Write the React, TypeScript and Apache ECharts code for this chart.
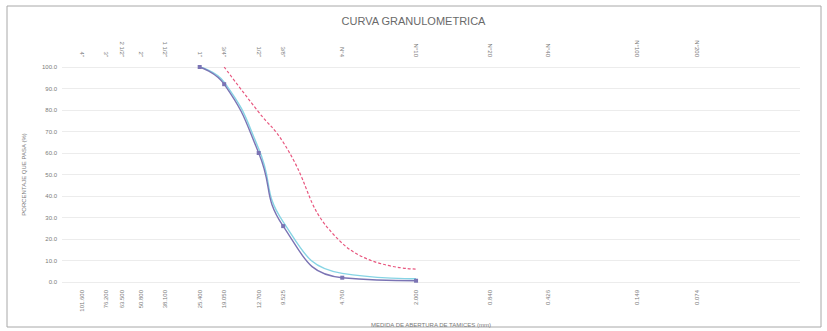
import React, { useEffect, useRef } from "react";
import * as echarts from "echarts";

// Sieve names and openings (mm)
const sieveNames = ['4"', '3"', '2 1/2"', '2"', '1 1/2"', '1"', '3/4"', '1/2"', '3/8"', "N°4", "N°10", "N°20", "N°40", "N°100", "N°200"];
const sieveSizes = [101.6, 76.2, 63.5, 50.8, 38.1, 25.4, 19.05, 12.7, 9.525, 4.76, 2.0, 0.84, 0.426, 0.149, 0.074];

// Percentage passing
const curveASizes = [25.4, 19.05, 12.7, 9.525, 4.76, 2.0];
const curveAValues = [100, 92, 60, 26, 2, 0.6];
const curveBSizes = [25.4, 19.05, 12.7, 9.525, 4.76, 2.0];
const curveBValues = [100, 93, 62, 28, 4, 1.5];
const curveCSizes = [19.05, 12.7, 9.525, 4.76, 2.0];
const curveCValues = [100, 79, 65, 18, 6];

const yTicks = [0, 10, 20, 30, 40, 50, 60, 70, 80, 90, 100];

const FONT = "Liberation Sans, Arial, sans-serif";
const TXT = "#7a7a7a";

function nameFor(v: number): string {
  let best = 0;
  let bd = Infinity;
  sieveSizes.forEach((s, i) => {
    const d = Math.abs(Math.log(s) - Math.log(v));
    if (d < bd) { bd = d; best = i; }
  });
  return sieveNames[best];
}

export default function App() {
  const ref = useRef<HTMLDivElement>(null);
  useEffect(() => {
    if (!ref.current) return;
    const chart = echarts.init(ref.current, undefined, { renderer: "svg" });
    const xCommon = {
      type: "log" as const,
      logBase: 10,
      inverse: true,
      min: 0.022,
      max: 128,
      axisLine: { show: false },
      axisTick: { show: false },
      splitLine: { show: false },
    };
    chart.setOption({
      animation: false,
      backgroundColor: "#ffffff",
      title: {
        text: "CURVA GRANULOMETRICA",
        left: "center",
        top: 10,
        textStyle: { fontFamily: FONT, fontSize: 11, fontWeight: "normal", color: "#6a6a6a" },
      },
      graphic: [
        {
          type: "rect",
          shape: { x: 7, y: 6, width: 814, height: 321 },
          style: { fill: "none", stroke: "#a8a8a8", lineWidth: 1 },
          silent: true,
        },
      ],
      grid: { left: 62, right: 27, top: 67, bottom: 49, containLabel: false, outerBoundsMode: "none" },
      xAxis: [
        {
          ...xCommon,
          position: "bottom",
          name: "MEDIDA DE ABERTURA DE TAMICES (mm)",
          nameLocation: "middle",
          nameGap: 40,
          nameTextStyle: { fontFamily: FONT, fontSize: 6, color: TXT },
          axisLabel: {
            customValues: sieveSizes,
            rotate: 90,
            margin: 8,
            fontFamily: FONT,
            fontSize: 6,
            color: TXT,
            formatter: (v: number) => v.toFixed(3),
          },
        },
        {
          ...xCommon,
          position: "top",
          axisLabel: {
            customValues: sieveSizes,
            rotate: 90,
            margin: 10,
            fontFamily: FONT,
            fontSize: 6,
            color: TXT,
            formatter: (v: number) => nameFor(v),
          },
        },
      ],
      yAxis: {
        type: "value",
        min: 0,
        max: 100,
        interval: 10,
        name: "PORCENTAJE QUE PASA (%)",
        nameLocation: "middle",
        nameGap: 35,
        nameRotate: 90,
        nameTextStyle: { fontFamily: FONT, fontSize: 6, color: TXT },
        axisLine: { show: false },
        axisTick: { show: false },
        axisLabel: {
          fontFamily: FONT,
          fontSize: 6,
          color: TXT,
          margin: 5,
          formatter: (v: number) => (yTicks.includes(v) ? v.toFixed(1) : ""),
        },
        splitLine: { lineStyle: { color: "#ececec", width: 1 } },
      },
      series: [
        {
          type: "line",
          xAxisIndex: 0,
          smooth: 0.5,
          data: curveBSizes.map((s, i) => [s, curveBValues[i]]),
          symbol: "none",
          lineStyle: { color: "#86d4e4", width: 1.4 },
          itemStyle: { color: "#86d4e4" },
          z: 2,
        },
        {
          type: "line",
          xAxisIndex: 0,
          smooth: 0.5,
          data: curveASizes.map((s, i) => [s, curveAValues[i]]),
          symbol: "rect",
          symbolSize: 4,
          lineStyle: { color: "#7b74b4", width: 1.4 },
          itemStyle: { color: "#7b74b4" },
          z: 3,
        },
        {
          type: "line",
          xAxisIndex: 0,
          smooth: 0.5,
          data: curveCSizes.map((s, i) => [s, curveCValues[i]]),
          symbol: "none",
          lineStyle: { color: "#e8577f", width: 1.2, type: [3, 2] },
          itemStyle: { color: "#e8577f" },
          z: 4,
        },
      ],
    });
    return () => chart.dispose();
  }, []);
  return (
    <div
      ref={ref}
      style={{ position: "fixed", left: 0, top: 0, width: 827, height: 331, background: "#fff" }}
    />
  );
}
